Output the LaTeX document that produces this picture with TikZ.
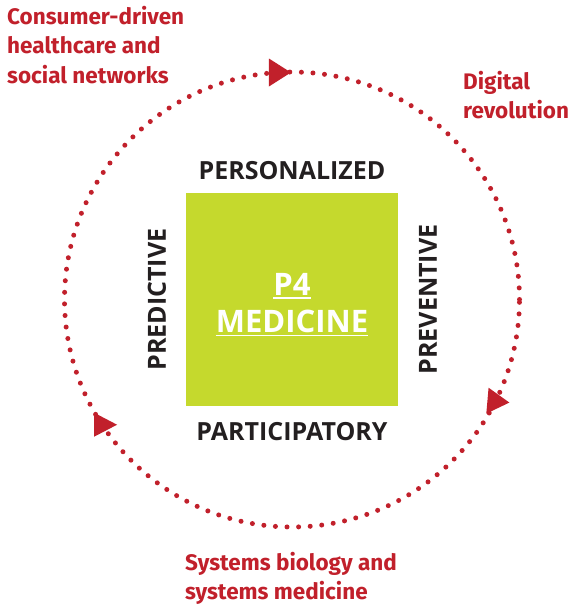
\documentclass[tikz,border=0pt]{standalone}
\usepackage{fontspec}
\setmainfont{Fira Sans}
\newfontfamily\capsfont{Open Sans}
\definecolor{ringred}{HTML}{C1202B}
\definecolor{p4green}{HTML}{C5D92D}
\definecolor{capsgray}{HTML}{231F20}

\begin{document}
\begin{tikzpicture}[x=1pt,y=1pt,
  ring/.style={draw=ringred,line width=5pt,line cap=round,dash pattern=on 0pt off 11.6pt},
  tip/.style={fill=ringred},
  side/.style={text=capsgray,font=\capsfont\bfseries\fontsize{25}{25}\selectfont,inner sep=0pt},
  driver/.style={text=ringred,font=\bfseries\fontsize{22.5}{29.5}\selectfont,align=left,anchor=north west,inner sep=0pt},
  title/.style={text=white,font=\capsfont\bfseries\fontsize{31}{31}\selectfont,inner sep=0pt}]
\useasboundingbox (-292,-307.5) rectangle (278,299.5);

% the cycle with its three arrow heads
\draw[ring] (0,0) circle [radius=227.5pt];
\fill[tip,shift={(93.8:227.5pt)}] (-8,14) -- (14,0) -- (-8,-14) -- cycle;
\fill[tip,shift={(-26.6:227.5pt)},rotate=-5] (-8,13) -- (14,0) -- (-8,-13) -- cycle;
\fill[tip,shift={(-146.6:227.5pt)}] (-8,12) -- (15,0) -- (-8,-12) -- cycle;

% the P4 square
\node[fill=p4green,minimum size=212pt,inner sep=0pt] (core) at (0,0) {};
\node[title] (p4) at (0,15.5) {P4};
\node[title] (med) at (0,-22) {MEDICINE};
\draw[white,line width=1.3pt] ([yshift=-3pt]p4.base west) -- ([yshift=-3pt]p4.base east);
\draw[white,line width=1.3pt] ([yshift=-3pt]med.base west) -- ([yshift=-3pt]med.base east);

% the four P's
\node[side] (pers) at (0,128.5) {PERSONALIZED};
\node[side] (part) at (0,-132.5) {PARTICIPATORY};
\node[side,rotate=90] (pred) at (-135,0) {PREDICTIVE};
\node[side,rotate=90] (prev) at (136,0) {PREVENTIVE};

% drivers
\node[driver] (consumer) at (-285,293.5) {Consumer-driven\\healthcare and\\social networks};
\node[driver] (digital) at (171,228.5) {Digital\\revolution};
\node[driver] (systems) at (-107,-252.5) {Systems biology and\\systems medicine};
\end{tikzpicture}
\end{document}
